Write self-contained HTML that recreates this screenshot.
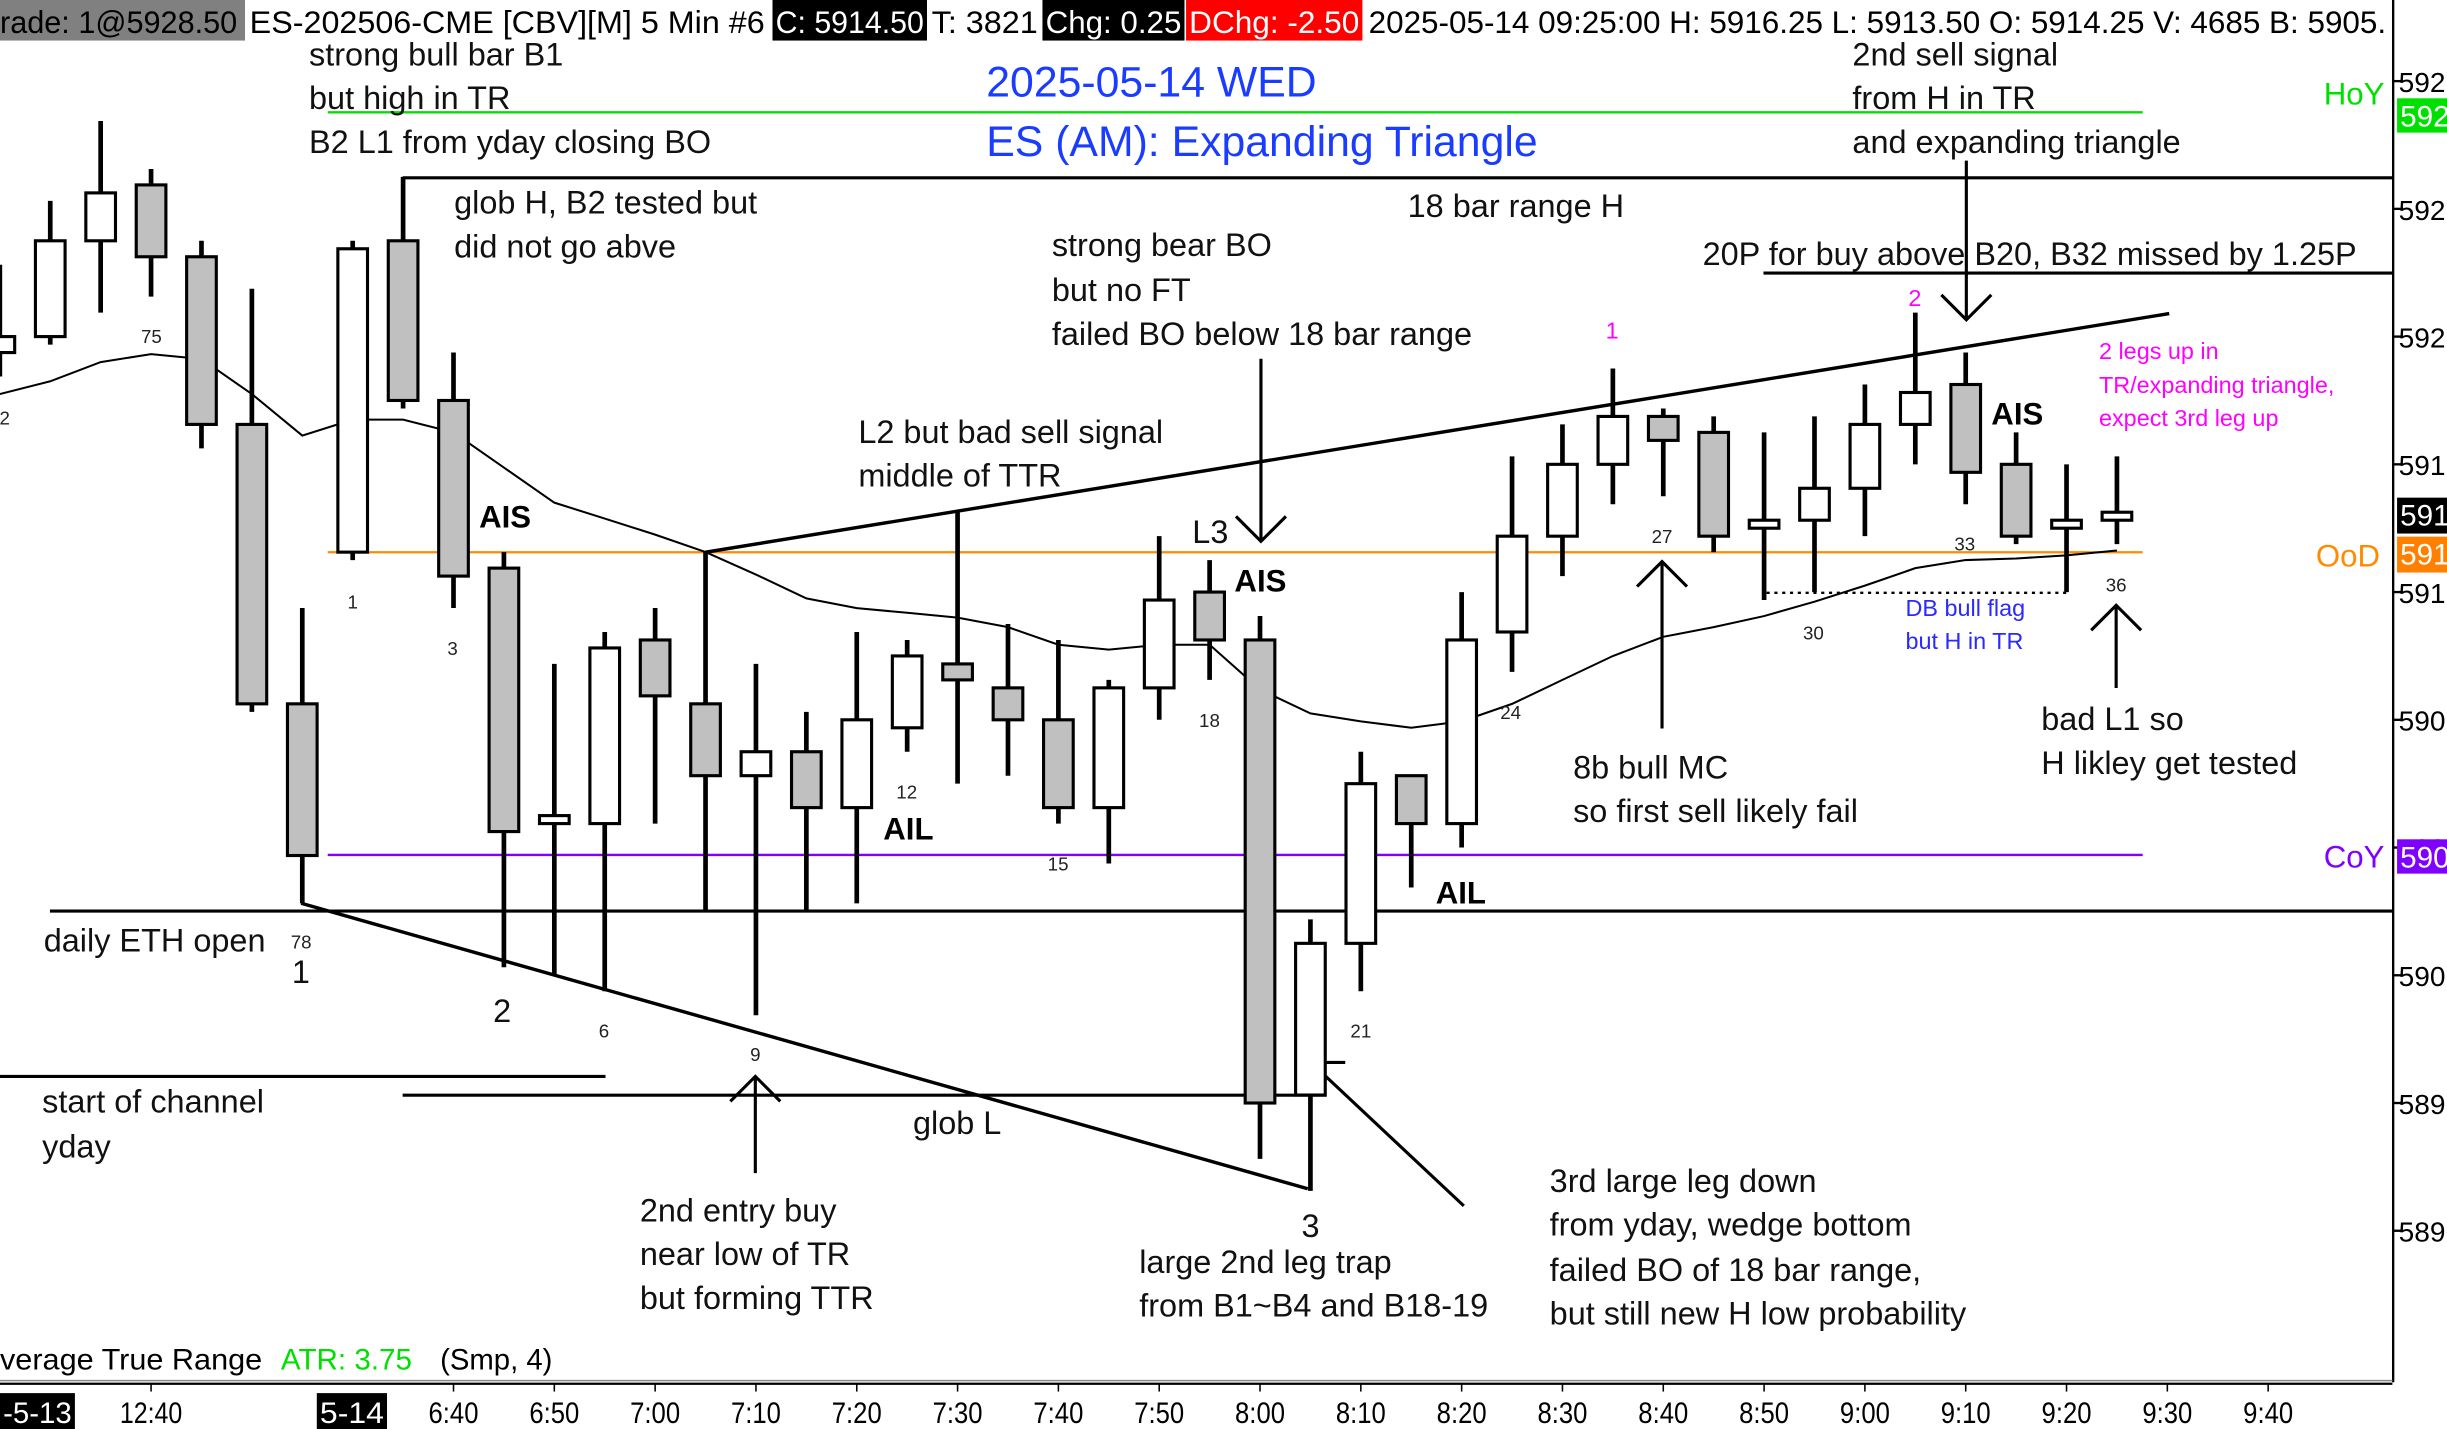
<!DOCTYPE html>
<html><head><meta charset="utf-8"><style>
html,body{margin:0;padding:0;background:#fff;}
svg{display:block;font-family:"Liberation Sans",sans-serif;}
.an{font-size:20.8px;fill:#111;}
.sm{font-size:12px;fill:#222;text-anchor:middle;}
.bd{font-size:20px;font-weight:bold;fill:#000;}
.ax{font-size:18px;fill:#000;}
</style></head><body>
<svg id="chart" width="2447" height="1429" viewBox="0 0 1568 916" preserveAspectRatio="none" xmlns="http://www.w3.org/2000/svg">
<rect x="0" y="0" width="1568" height="916" fill="#fff"/>
<g font-size="20">
<rect x="0" y="0" width="157" height="26" fill="#808080"/>
<text x="0" y="21" textLength="152" lengthAdjust="spacingAndGlyphs">rade: 1@5928.50</text>
<text x="160" y="21" textLength="330" lengthAdjust="spacingAndGlyphs">ES-202506-CME [CBV][M]  5 Min  #6</text>
<rect x="495" y="0" width="99" height="26" fill="#000"/>
<text x="497" y="21" fill="#fff" textLength="95" lengthAdjust="spacingAndGlyphs">C: 5914.50</text>
<text x="597" y="21" textLength="68" lengthAdjust="spacingAndGlyphs">T: 3821</text>
<rect x="668" y="0" width="91" height="26" fill="#000"/>
<text x="670" y="21" fill="#fff" textLength="87" lengthAdjust="spacingAndGlyphs">Chg: 0.25</text>
<rect x="760" y="0" width="113" height="26" fill="#f00"/>
<text x="762" y="21" fill="#fff" textLength="109" lengthAdjust="spacingAndGlyphs">DChg: -2.50</text>
<text x="877" y="21" textLength="652" lengthAdjust="spacingAndGlyphs">2025-05-14 09:25:00 H: 5916.25 L: 5913.50 O: 5914.25 V: 4685 B: 5905.</text>
</g>
<line x1="1533.5" y1="0" x2="1533.5" y2="886" stroke="#000" stroke-width="1.5"/>
<line x1="0" y1="885" x2="1533" y2="885" stroke="#888" stroke-width="1"/>
<line x1="0" y1="887" x2="1533" y2="887" stroke="#000" stroke-width="1.5"/>

<line x1="210" y1="72" x2="1373" y2="72" stroke="#00e000" stroke-width="1.5"/>
<line x1="258" y1="114" x2="1533" y2="114" stroke="#000" stroke-width="2"/>
<line x1="1130" y1="175" x2="1533" y2="175" stroke="#000" stroke-width="2"/>
<line x1="210" y1="354" x2="1373" y2="354" stroke="#ff8c00" stroke-width="1.5"/>
<line x1="210" y1="548" x2="1373" y2="548" stroke="#8000ff" stroke-width="1.5"/>
<line x1="32" y1="584" x2="1533" y2="584" stroke="#000" stroke-width="2"/>
<line x1="0" y1="690" x2="388" y2="690" stroke="#000" stroke-width="2"/>
<line x1="258" y1="702" x2="850" y2="702" stroke="#000" stroke-width="2"/>
<line x1="193" y1="579" x2="838" y2="762" stroke="#000" stroke-width="2.2"/>
<line x1="452" y1="354" x2="1390" y2="201" stroke="#000" stroke-width="2.2"/>
<line x1="1132" y1="380" x2="1324" y2="380" stroke="#000" stroke-width="1.5" stroke-dasharray="2,3"/>
<g stroke="#000" stroke-width="2" fill="none">
<polyline points="862,681 840,681 938,773"/>
</g>
<g stroke="#000" stroke-width="2" fill="none">
<path d="M808 230 V347 M792 331 L808 347 L824 331"/>
<path d="M1260 103 V205 M1244 189 L1260 205 L1276 189"/>
<path d="M484 752 V690 M468 706 L484 690 L500 706"/>
<path d="M1065 467 V360 M1049 376 L1065 360 L1081 376"/>
<path d="M1356 441 V388 M1340 404 L1356 388 L1372 404"/>
</g>

<g id="ema"></g>
<g id="candles"></g>

<g class="an">
<text x="198" y="42">strong bull bar B1</text>
<text x="198" y="70">but high in TR</text>
<text x="198" y="98">B2 L1 from yday closing BO</text>
<text x="291" y="137">glob H, B2 tested but</text>
<text x="291" y="165">did not go abve</text>
<text x="902" y="139">18 bar range H</text>
<text x="1187" y="42">2nd sell signal</text>
<text x="1187" y="70">from H in TR</text>
<text x="1187" y="98">and expanding triangle</text>
<text x="1091" y="170">20P for buy above B20, B32 missed by 1.25P</text>
<text x="674" y="164">strong bear BO</text>
<text x="674" y="193">but no FT</text>
<text x="674" y="221">failed BO below 18 bar range</text>
<text x="550" y="284">L2 but bad sell signal</text>
<text x="550" y="312">middle of TTR</text>
<text x="764" y="348">L3</text>
<text x="28" y="610">daily ETH open</text>
<text x="27" y="713">start of channel</text>
<text x="27" y="742">yday</text>
<text x="585" y="727">glob L</text>
<text x="410" y="783">2nd entry buy</text>
<text x="410" y="811">near low of TR</text>
<text x="410" y="839">but forming TTR</text>
<text x="730" y="816">large 2nd leg trap</text>
<text x="730" y="844">from B1~B4 and B18-19</text>
<text x="993" y="764">3rd large leg down</text>
<text x="993" y="792">from yday, wedge bottom</text>
<text x="993" y="821">failed BO of 18 bar range,</text>
<text x="993" y="849">but still new H low probability</text>
<text x="1008" y="499">8b bull MC</text>
<text x="1008" y="527">so first sell likely fail</text>
<text x="1308" y="468">bad L1 so</text>
<text x="1308" y="496">H likley get tested</text>
<text x="187" y="630">1</text>
<text x="316" y="655">2</text>
<text x="834" y="793">3</text>
</g>
<g font-size="27.4" fill="#1a3cff">
<text x="632" y="62">2025-05-14 WED</text>
<text x="632" y="100">ES (AM): Expanding Triangle</text>
</g>
<g class="bd">
<text x="307" y="338">AIS</text><text x="791" y="379">AIS</text><text x="1276" y="272">AIS</text>
<text x="566" y="538">AIL</text><text x="920" y="579">AIL</text>
</g>
<g class="sm">
<text x="3" y="272">2</text><text x="97" y="220">75</text><text x="193" y="608">78</text>
<text x="226" y="390">1</text><text x="290" y="420">3</text><text x="387" y="665">6</text>
<text x="484" y="680">9</text><text x="581" y="512">12</text><text x="678" y="558">15</text>
<text x="775" y="466">18</text><text x="872" y="665">21</text><text x="968" y="461">24</text>
<text x="1065" y="348">27</text><text x="1162" y="410">30</text><text x="1259" y="353">33</text>
<text x="1356" y="379">36</text>
</g>
<g font-size="15" fill="#ff00ff">
<text x="1033" y="217" text-anchor="middle">1</text><text x="1227" y="196" text-anchor="middle">2</text>
<text x="1345" y="230">2 legs up in</text>
<text x="1345" y="252">TR/expanding triangle,</text>
<text x="1345" y="273">expect 3rd leg up</text>
</g>
<g font-size="15" fill="#2a2aff">
<text x="1221" y="395">DB bull flag</text><text x="1221" y="416">but H in TR</text>
</g>
<g font-size="20">
<text x="1489" y="67" fill="#00e000">HoY</text>
<text x="1484" y="363" fill="#ff8c00">OoD</text>
<text x="1489" y="556" fill="#8000ff">CoY</text>
</g>
<g class="ax" id="paxis"></g>
<g font-size="19">
<rect x="1536" y="63" width="32" height="22" fill="#00e000"/><text x="1538" y="81" fill="#fff">592</text>
<rect x="1536" y="319" width="32" height="23" fill="#000"/><text x="1538" y="337" fill="#fff">591</text>
<rect x="1536" y="344" width="32" height="23" fill="#ff7f00"/><text x="1538" y="362" fill="#fff">591</text>
<rect x="1536" y="538" width="32" height="22" fill="#8000ff"/><text x="1538" y="556" fill="#fff">590</text>
</g>
<g font-size="19">
<text x="0" y="878" textLength="168" lengthAdjust="spacingAndGlyphs">verage True Range</text>
<text x="180" y="878" fill="#00e000" textLength="84" lengthAdjust="spacingAndGlyphs">ATR: 3.75</text>
<text x="282" y="878" textLength="72" lengthAdjust="spacingAndGlyphs">(Smp, 4)</text>
</g>
<g font-size="19" id="taxis">
<rect x="0" y="893" width="48" height="23" fill="#000"/><text x="2" y="912" fill="#fff" textLength="44" lengthAdjust="spacingAndGlyphs">-5-13</text>
<rect x="203" y="893" width="45" height="23" fill="#000"/><text x="205" y="912" fill="#fff" textLength="41" lengthAdjust="spacingAndGlyphs">5-14</text>
</g>
</svg>
<script>
const barLabels = [72,73,74,75,76,77,78,1,2,3,4,5,6,7,8,9,10,11,12,13,14,15,16,17,18,19,20,21,22,23,24,25,26,27,28,29,30,31,32,33,34,35,36];
const opens  = [5919.5,5920,5923,5924.75,5922.5,5917.25,5908.5,5913.25,5923,5918,5912.75,5904.75,5904.75,5910.5,5908.5,5906.25,5907,5905.25,5907.75,5909.75,5909,5908,5905.25,5909,5912,5910.5,5896.25,5901,5906.25,5904.75,5910.75,5913.75,5916,5917.5,5917,5914,5914.25,5915.25,5917.25,5918.5,5916,5914,5914.25];
const highs  = [5922.25,5924.25,5926.75,5925.25,5923,5921.5,5911.5,5923,5925,5919.5,5913.25,5909.75,5910.75,5911.5,5913.25,5909.75,5908.25,5910.75,5910.5,5914.5,5911,5910.5,5909.25,5913.75,5913,5911.25,5901.75,5907,5906.25,5912,5916.25,5917.25,5919,5917.75,5917.5,5917,5917.5,5918.5,5920.75,5919.5,5917,5916,5916.25];
const lows   = [5918.75,5919.75,5920.75,5921.25,5916.5,5908.25,5902.25,5913,5917.75,5911.5,5900.25,5900,5899.5,5904.75,5902,5898.75,5902,5902.25,5907,5906,5906.25,5904.75,5903.5,5908,5909.25,5894.25,5893.25,5899.5,5902.75,5904,5909.5,5912.5,5914.75,5915,5913.25,5911.75,5912,5913.75,5916,5914.75,5913.5,5912,5913.5];
const closes = [5920,5923,5924.5,5922.5,5917.25,5908.5,5903.75,5922.75,5918,5912.5,5904.5,5905,5910.25,5908.75,5906.25,5907,5905.25,5908,5910,5909.25,5908,5905.25,5909,5911.75,5910.5,5896,5901,5906,5904.75,5910.5,5913.75,5916,5917.5,5916.75,5913.75,5914.25,5915.25,5917.25,5918.25,5915.75,5913.75,5914.25,5914.5];
const emaVals = [5918.2,5918.6,5919.2,5919.45,5919.3,5918.2,5916.9,5917.4,5917.4,5917.0,5915.9,5914.8,5914.3,5913.8,5913.25,5912.55,5911.8,5911.5,5911.35,5911.2,5910.9,5910.35,5910.2,5910.35,5910.35,5908.95,5908.2,5907.95,5907.75,5907.95,5908.5,5909.25,5910.0,5910.6,5910.9,5911.25,5911.7,5912.2,5912.75,5913.0,5913.05,5913.15,5913.3];
const priceTicks = [5928,5924,5920,5916,5912,5908,5904,5900,5896,5892];
const timeLabels = ["12:40","6:40","6:50","7:00","7:10","7:20","7:30","7:40","7:50","8:00","8:10","8:20","8:30","8:40","8:50","9:00","9:10","9:20","9:30","9:40"];
const timeSlots  = [3,9,11,13,15,17,19,21,23,25,27,29,31,33,35,37,39,41,43,45];

const NS="http://www.w3.org/2000/svg";
const P0=5928, Y0=52, PPX=20.47, X0=226, BW=32.3, FIRST=7;
function yS(p){return Y0+(P0-p)*PPX;}
function xS(i){return X0+(i-FIRST)*BW;}
function mk(t,a){const e=document.createElementNS(NS,t);for(const k in a)e.setAttribute(k,a[k]);return e;}

const cg=document.getElementById('candles');
for(let i=0;i<opens.length;i++){
  const x=xS(i), o=opens[i], c=closes[i], h=highs[i], l=lows[i];
  const g=mk('g',{});
  
  
  const w=mk('line',{x1:x,x2:x,y1:yS(h),y2:yS(l),stroke:'#000','stroke-width':3});
  g.appendChild(w);
  const top=yS(Math.max(o,c)), bot=yS(Math.min(o,c));
  const r=mk('rect',{x:x-9.5,y:top,width:19,height:Math.max(bot-top,2.5),fill:c>=o?'#fff':'#c0c0c0',stroke:'#000','stroke-width':2});
  g.appendChild(r);
  cg.appendChild(g);
}
const eg=document.getElementById('ema');
const pts=emaVals.map((v,i)=>xS(i).toFixed(1)+','+yS(v).toFixed(1)).join(' ');
const pl=mk('polyline',{points:pts,fill:'none',stroke:'#000','stroke-width':1.3});


eg.appendChild(pl);

const pa=document.getElementById('paxis');
priceTicks.forEach(p=>{
  const y=yS(p);
  const t=mk('line',{x1:1533,x2:1540,y1:y,y2:y,stroke:'#000','stroke-width':1.5});
  
  
  pa.appendChild(t);
  const tx=mk('text',{x:1537,y:y+7});
  
  
  tx.textContent=String(Math.floor(p/10));
  pa.appendChild(tx);
});
const ta=document.getElementById('taxis');
timeLabels.forEach((s,k)=>{
  const x=xS(timeSlots[k]);
  const tk=mk('line',{x1:x,x2:x,y1:887,y2:892,stroke:'#000','stroke-width':1});
  
  
  ta.appendChild(tk);
  const t=mk('text',{x:x,y:912,'text-anchor':'middle',textLength:s.length>4?40:32,lengthAdjust:'spacingAndGlyphs'});
  
  
  t.textContent=s;
  ta.appendChild(t);
});
</script>
</body></html>
